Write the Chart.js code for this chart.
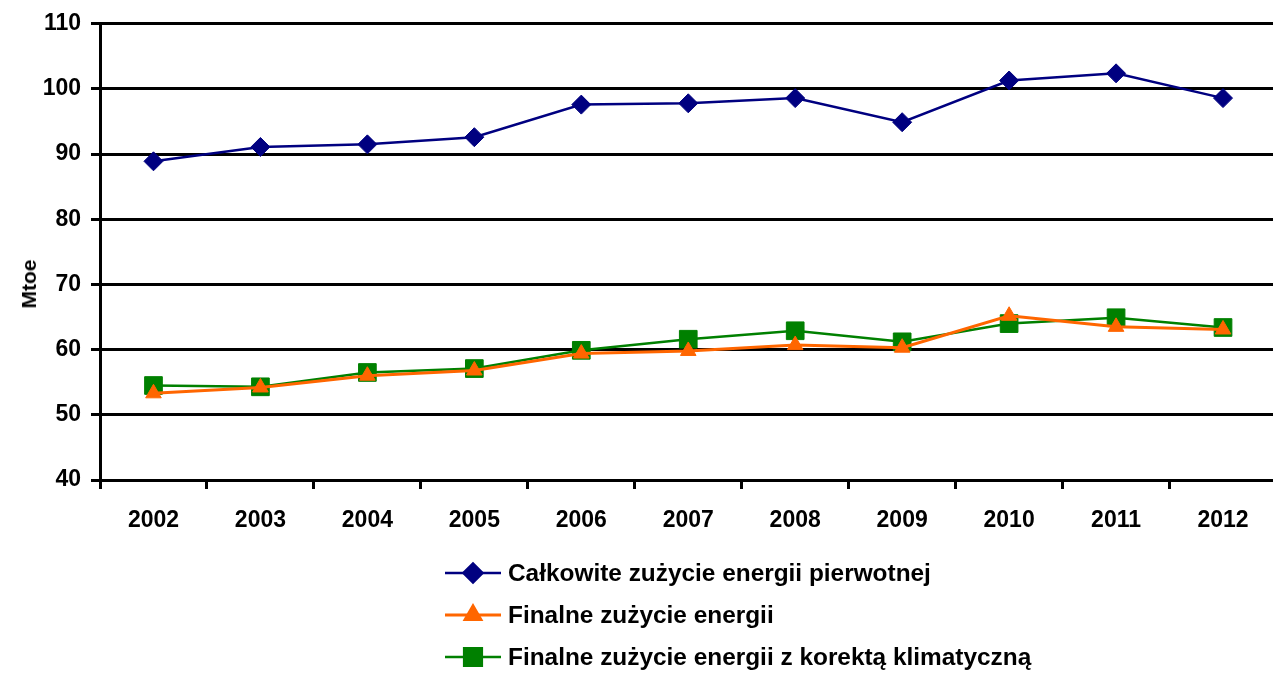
<!DOCTYPE html>
<html>
<head>
<meta charset="utf-8">
<script src="https://cdn.jsdelivr.net/npm/chart.js@4"></script>
<style>
  html, body { margin: 0; padding: 0; background: #fff; overflow: hidden; }
  body { width: 1273px; height: 673px; position: relative; font-family: 'Liberation Sans', Arial, sans-serif; }
  #wrap { position: absolute; left: 0; top: 0; width: 1290px; height: 545px; }
  #ytitle { position: absolute; left: 29px; top: 284px; transform: translate(-50%, -50%) rotate(-90deg);
            font-weight: bold; font-size: 21px; color: #000; white-space: nowrap; }
  #legend { position: absolute; left: 445px; top: 552px; }
  .item { height: 42px; display: flex; align-items: center; font-weight: bold; font-size: 24.4px; color: #000; }
  .item canvas { margin-right: 7px; }
</style>
</head>
<body>
<div id="wrap"><canvas id="chart"></canvas></div>
<div id="ytitle">Mtoe</div>
<div id="legend"></div>
<script>
// Chart data
const years = ['2002', '2003', '2004', '2005', '2006', '2007', '2008', '2009', '2010', '2011', '2012'];
const primaryTotal = [88.9, 91.1, 91.5, 92.6, 97.6, 97.8, 98.6, 94.9, 101.3, 102.4, 98.6];
const finalTotal = [53.3, 54.2, 56.0, 56.8, 59.4, 59.8, 60.7, 60.3, 65.2, 63.5, 63.1];
const finalCorrected = [54.5, 54.3, 56.5, 57.1, 59.9, 61.6, 62.9, 61.2, 64.0, 64.9, 63.4];
const seriesLabels = [
    'Całkowite zużycie energii pierwotnej',
    'Finalne zużycie energii',
    'Finalne zużycie energii z korektą klimatyczną'
];

const font = { family: "'Liberation Sans', Arial, sans-serif", size: 23, weight: 'bold' };

const datasets = [
    { label: seriesLabels[0], data: primaryTotal, borderColor: '#000080', backgroundColor: '#000080',
      borderWidth: 2.5, pointStyle: 'rectRot', pointRadius: 9.5 },
    { label: seriesLabels[1], data: finalTotal, borderColor: '#ff6600', backgroundColor: '#ff6600',
      borderWidth: 3, pointStyle: 'triangle', pointRadius: 9 },
    { label: seriesLabels[2], data: finalCorrected, borderColor: '#008000', backgroundColor: '#008000',
      borderWidth: 2.5, pointStyle: 'rect', pointRadius: 12.5 }
];
datasets.forEach(d => { d.pointBorderWidth = 1; d.tension = 0; d.fill = false; });

new Chart(document.getElementById('chart'), {
    type: 'line',
    data: { labels: years, datasets },
    options: {
        responsive: true,
        maintainAspectRatio: false,
        animation: false,
        layout: { padding: { top: 22, right: 4, left: 0, bottom: 0 } },
        plugins: { legend: { display: false }, tooltip: { enabled: false } },
        scales: {
            x: {
                offset: true,
                grid: { offset: true, drawOnChartArea: false, color: '#000', lineWidth: 3, tickLength: 9 },
                border: { color: '#000', width: 3 },
                ticks: { color: '#000', font, padding: 18, maxRotation: 0 },
                afterFit: s => { s.height = 65; }
            },
            y: {
                min: 40, max: 110,
                grid: { color: '#000', lineWidth: 3, tickLength: 9 },
                border: { color: '#000', width: 3 },
                ticks: { stepSize: 10, color: '#000', font, padding: 10 },
                afterFit: s => { s.width = 100; }
            }
        }
    }
});

// HTML legend, one series per row
const legend = document.getElementById('legend');
datasets.forEach(d => {
    const row = document.createElement('div');
    row.className = 'item';
    const c = document.createElement('canvas');
    c.width = 56; c.height = 26;
    const g = c.getContext('2d');
    g.strokeStyle = d.borderColor;
    g.lineWidth = d.borderWidth;
    g.beginPath(); g.moveTo(0, 13); g.lineTo(56, 13); g.stroke();
    Chart.helpers.drawPoint(g, { pointStyle: d.pointStyle, radius: d.pointRadius, borderWidth: 1 }, 28, 13);
    g.fillStyle = d.backgroundColor;
    g.fill();
    const span = document.createElement('span');
    span.textContent = d.label;
    row.appendChild(c);
    row.appendChild(span);
    legend.appendChild(row);
});
</script>
</body>
</html>
